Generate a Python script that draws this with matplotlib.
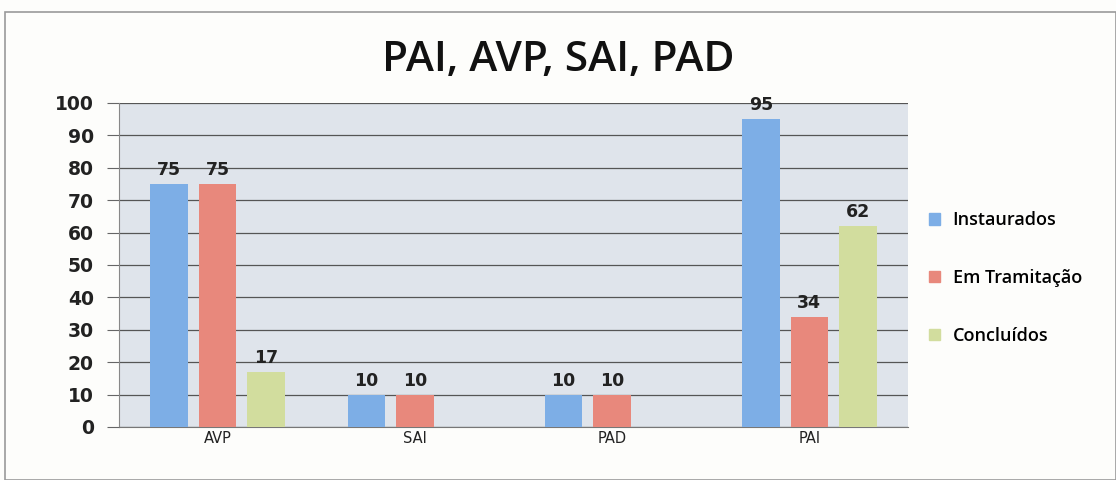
import matplotlib
matplotlib.use("Agg")
import matplotlib.pyplot as plt
import numpy as np
from matplotlib.patches import Rectangle

categories = ["AVP", "SAI", "PAD", "PAI"]
series_names = ["Instaurados", "Em Tramitação", "Concluídos"]
instaurados = [75, 10, 10, 95]
em_tramitacao = [75, 10, 10, 34]
concluidos = [17, 0, 0, 62]
yticks = list(range(0, 101, 10))

colors = ["#7daee6", "#e8887c", "#d2dd9e"]
series = [instaurados, em_tramitacao, concluidos]

fig = plt.figure(figsize=(11.16, 4.8), dpi=100)
fig.patch.set_facecolor("#fdfdfb")
fig.patches.append(Rectangle((5/1116, 0), 1 - 5/1116, 1 - 12/480, transform=fig.transFigure,
                             fill=False, edgecolor="#9a9a9a", lw=1.2))

ax = fig.add_axes([119/1116, 1 - 427/480, (908-119)/1116, (427-103)/480])
ax.set_facecolor("#dfe4eb")
x = np.arange(len(categories))
bw = 0.19
step = 0.246
for i, (vals, c, name) in enumerate(zip(series, colors, series_names)):
    pos = x + (i - 1) * step
    ax.bar(pos, vals, width=bw, color=c, label=name, zorder=3)
    for p, v in zip(pos, vals):
        if v > 0:
            ax.text(p, v + 1.5, str(v), ha="center", va="bottom", fontsize=12.5,
                    fontweight="bold", family="DejaVu Sans", color="#222222", zorder=4)

ax.set_xlim(-0.5, 3.5)
ax.set_ylim(0, 100)
ax.set_yticks(yticks)
ax.set_yticklabels([str(t) for t in yticks], fontsize=13.5, fontweight="bold", family="DejaVu Sans", color="#222222")
ax.set_xticks(x)
ax.set_xticklabels(categories, fontsize=10.5, family="DejaVu Sans", color="#222222")
ax.yaxis.grid(True, color="#555555", lw=0.9, zorder=1)
ax.set_axisbelow(True)
for s in ["top", "right"]:
    ax.spines[s].set_visible(False)
ax.spines["left"].set_color("#888888")
ax.spines["bottom"].set_color("#777777")
ax.tick_params(axis="y", length=9, color="#666666", pad=9)
ax.tick_params(axis="x", length=0, pad=3)

fig.text(0.5, 1 - 60/480, "PAI, AVP, SAI, PAD", ha="center", va="center", fontsize=30.5,
         family="Open Sans", fontweight="semibold", color="#111111")

handles = [Rectangle((0, 0), 1, 1, color=c) for c in colors]
fig.legend(handles, series_names, loc="center left", bbox_to_anchor=(913/1116, 1 - 278/480),
           frameon=False, handlelength=0.6, handleheight=0.6,
           labelspacing=2.2, handletextpad=0.7,
           prop={"family": "Open Sans", "weight": "semibold", "size": 13})

fig.savefig("out.png", dpi=100, facecolor=fig.get_facecolor())
